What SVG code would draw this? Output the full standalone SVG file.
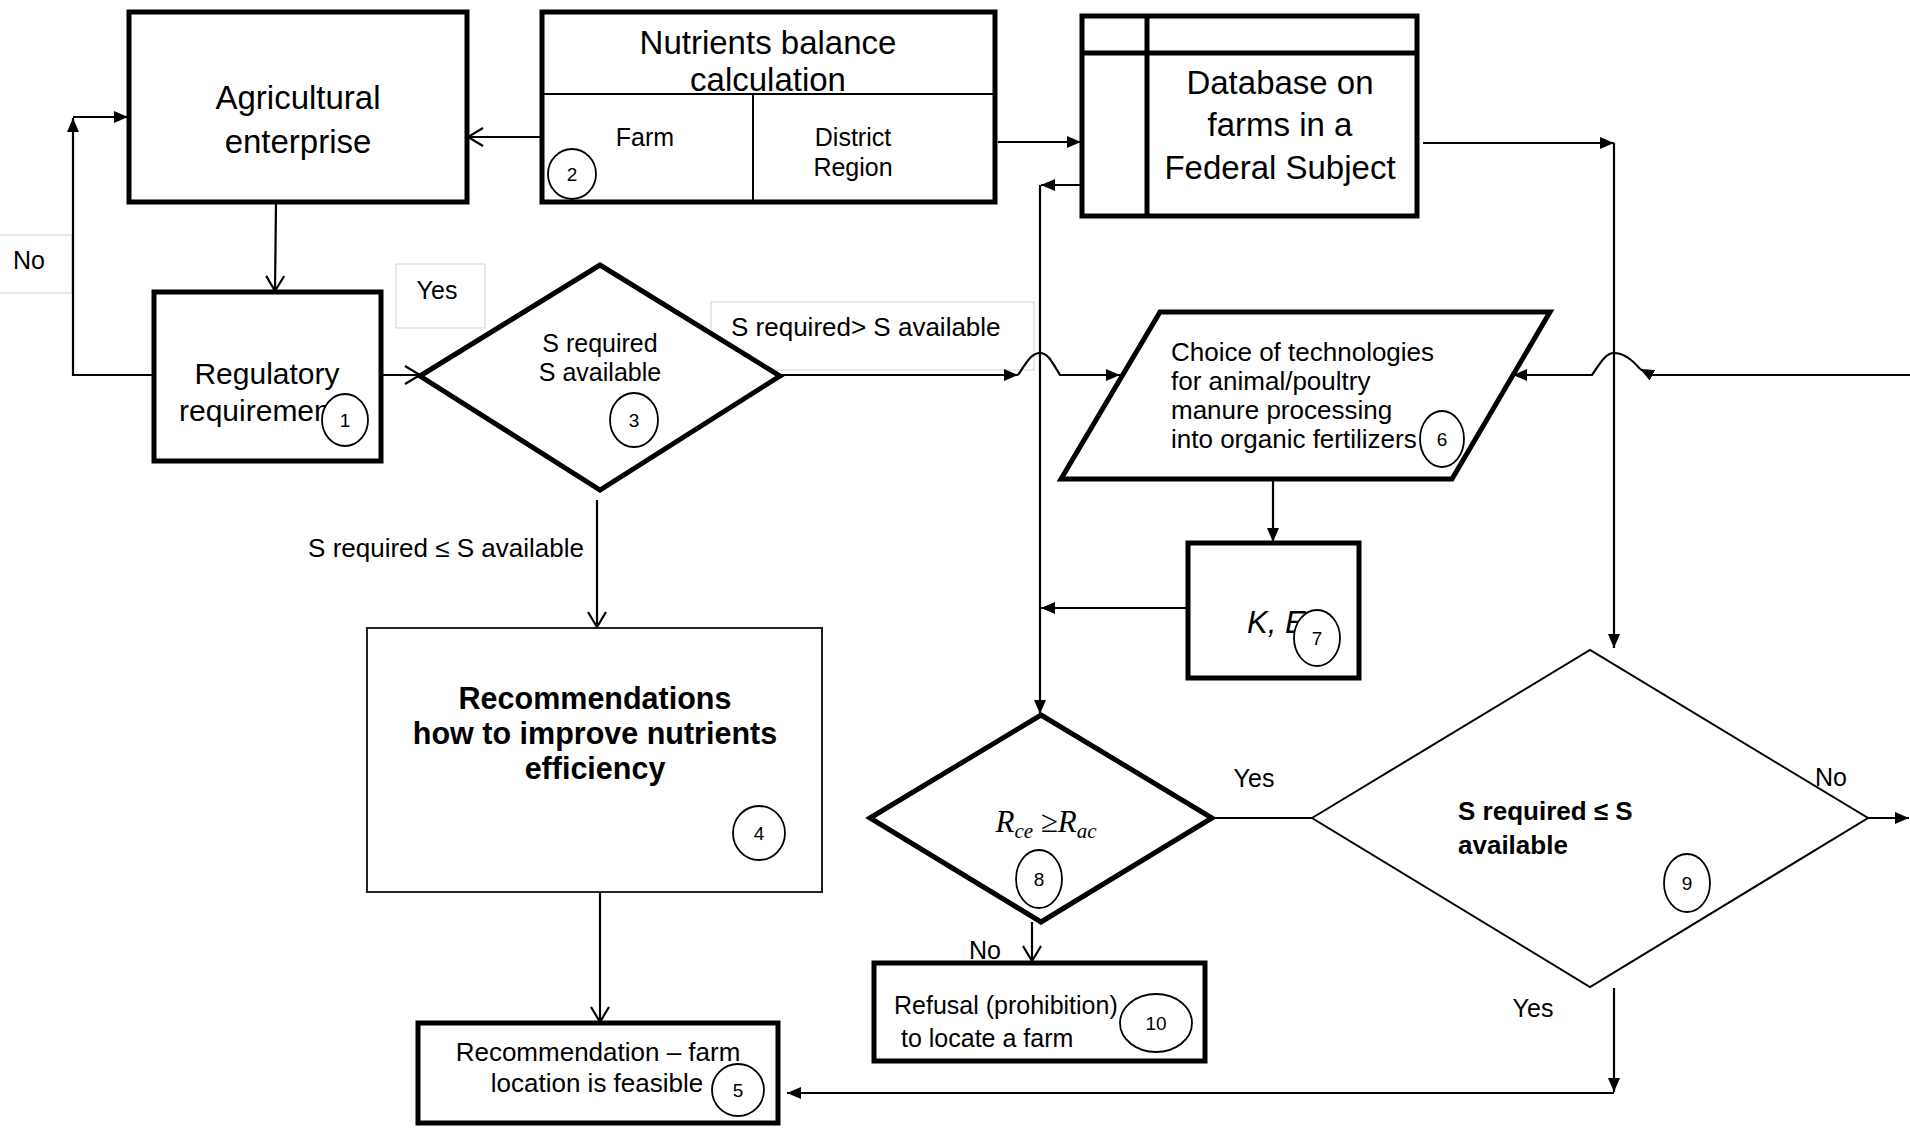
<svg xmlns="http://www.w3.org/2000/svg" width="1910" height="1128" viewBox="0 0 1910 1128">
<defs>
<style>
.t{font-family:"Liberation Sans",Arial,sans-serif;fill:#000}
.big{font-size:33px}
.mid{font-size:26px}
.sm{font-size:25px}
.num{font-family:"Liberation Sans",Arial,sans-serif;font-size:19px;fill:#000}
.thick{fill:#fff;stroke:#000;stroke-width:5}
.thin{fill:#fff;stroke:#000;stroke-width:2}
.div{stroke:#000;stroke-width:2;fill:none}
.lbl{fill:none;stroke:#d9d9d9;stroke-width:1.2}
.c{fill:#fff;stroke:#000;stroke-width:1.8}
.ln{fill:none;stroke:#000;stroke-width:2.2}
</style>
<marker id="fa" viewBox="0 0 14 12" refX="14" refY="6" markerWidth="14" markerHeight="12" orient="auto" markerUnits="userSpaceOnUse"><path d="M0,0 L14,6 L0,12 z" fill="#000"/></marker>
<marker id="oa" viewBox="0 0 18 20" refX="16" refY="10" markerWidth="18" markerHeight="20" orient="auto" markerUnits="userSpaceOnUse"><path d="M1,1 L16,10 L1,19" fill="none" stroke="#000" stroke-width="2.2"/></marker>
</defs>
<rect width="1910" height="1128" fill="#fff"/>

<g id="labels">
<rect class="lbl" x="-2" y="235" width="74" height="58"/>
<text class="t sm" x="29" y="269" text-anchor="middle">No</text>
<rect class="lbl" x="396" y="264" width="89" height="64"/>
<text class="t sm" x="437" y="299" text-anchor="middle">Yes</text>
<rect class="lbl" x="711" y="302" width="323" height="68"/>
<text class="t mid" x="731" y="336">S required&gt; S available</text>
<text class="t mid" x="446" y="557" text-anchor="middle">S required ≤ S available</text>
<text class="t sm" x="1254" y="787" text-anchor="middle">Yes</text>
<text class="t sm" x="985" y="959" text-anchor="middle">No</text>
<text class="t sm" x="1831" y="786" text-anchor="middle">No</text>
<text class="t sm" x="1533" y="1017" text-anchor="middle">Yes</text>
</g>

<g id="connectors">
<path class="ln" d="M542,137 L468,137" marker-end="url(#oa)"/>
<path class="ln" d="M276,202 L275,291" marker-end="url(#oa)"/>
<path class="ln" d="M381,375 L420,375" marker-end="url(#oa)"/>
<path class="ln" d="M154,375 L73,375 L73,118" marker-end="url(#fa)"/>
<path class="ln" d="M73,117 L128,117" marker-end="url(#fa)"/>
<path class="ln" d="M998,142 L1081,142" marker-end="url(#fa)"/>
<path class="ln" d="M1082,185 L1041,185" marker-end="url(#fa)"/>
<path class="ln" d="M1040,185 L1040,714" marker-end="url(#fa)"/>
<path class="ln" d="M1423,143 L1614,143" marker-end="url(#fa)"/>
<path class="ln" d="M1614,143 L1614,648" marker-end="url(#fa)"/>
<path class="ln" d="M780,375 L1018,375" marker-end="url(#fa)"/>
<path class="ln" d="M1018,375 C1028,360 1032,353 1040,353 C1048,353 1052,362 1060,375 L1120,375" marker-end="url(#fa)"/>
<path class="ln" d="M1910,375 L1652,375 L1640,369" marker-end="url(#fa)"/>
<path class="ln" d="M1640,369 C1630,357 1622,353 1614,353 C1605,353 1599,365 1592,375 L1513,375" marker-end="url(#fa)"/>
<path class="ln" d="M1273,479 L1273,542" marker-end="url(#fa)"/>
<path class="ln" d="M1188,608 L1041,608" marker-end="url(#fa)"/>
<path class="ln" d="M597,500 L597,627" marker-end="url(#oa)"/>
<path class="ln" d="M600,892 L600,1022" marker-end="url(#oa)"/>
<path class="ln" d="M1032,922 L1032,961" marker-end="url(#oa)"/>
<path class="ln" d="M1212,818 L1312,818"/>
<path class="ln" d="M1868,818 L1909,818" marker-end="url(#fa)"/>
<path class="ln" d="M1614,988 L1614,1092" marker-end="url(#fa)"/>
<path class="ln" d="M1614,1093 L787,1093" marker-end="url(#fa)"/>
</g>

<g id="agricultural-enterprise">
<rect class="thick" x="129" y="12" width="338" height="190"/>
<text class="t big" x="298" y="109" text-anchor="middle">Agricultural</text>
<text class="t big" x="298" y="153" text-anchor="middle">enterprise</text>
</g>

<g id="node1">
<rect class="thick" x="154" y="292" width="227" height="169"/>
<text class="t" font-size="30" x="267" y="384" text-anchor="middle">Regulatory</text>
<text class="t" font-size="30" x="179" y="421">requiremen</text>
<ellipse class="c" cx="345" cy="420" rx="23" ry="26"/>
<text class="num" x="345" y="427" text-anchor="middle">1</text>
</g>

<g id="node2">
<rect class="thick" x="542" y="12" width="453" height="190"/>
<path class="div" d="M542,94 L995,94 M753,94 L753,202"/>
<text class="t big" x="768" y="54" text-anchor="middle">Nutrients balance</text>
<text class="t big" x="768" y="91" text-anchor="middle">calculation</text>
<text class="t sm" x="645" y="146" text-anchor="middle">Farm</text>
<text class="t sm" x="853" y="146" text-anchor="middle">District</text>
<text class="t sm" x="853" y="176" text-anchor="middle">Region</text>
<ellipse class="c" cx="572" cy="174" rx="24" ry="25"/>
<text class="num" x="572" y="181" text-anchor="middle">2</text>
</g>

<g id="database">
<rect class="thick" x="1082" y="16" width="335" height="200"/>
<path d="M1082,53 L1417,53 M1147,16 L1147,216" stroke="#000" stroke-width="5" fill="none"/>
<text class="t big" x="1280" y="94" text-anchor="middle">Database on</text>
<text class="t big" x="1280" y="136" text-anchor="middle">farms in a</text>
<text class="t big" x="1280" y="179" text-anchor="middle">Federal Subject</text>
</g>

<g id="node3">
<polygon class="thick" points="420,376 600,265 780,376 600,490"/>
<text class="t sm" x="600" y="352" text-anchor="middle">S required</text>
<text class="t sm" x="600" y="381" text-anchor="middle">S available</text>
<ellipse class="c" cx="634" cy="420" rx="24" ry="27"/>
<text class="num" x="634" y="427" text-anchor="middle">3</text>
</g>

<g id="node4">
<rect x="367" y="628" width="455" height="264" fill="#fff" stroke="#222" stroke-width="2"/>
<text class="t" font-size="30.5" font-weight="bold" x="595" y="709" text-anchor="middle">Recommendations</text>
<text class="t" font-size="30.5" font-weight="bold" x="595" y="744" text-anchor="middle">how to improve nutrients</text>
<text class="t" font-size="30.5" font-weight="bold" x="595" y="779" text-anchor="middle">efficiency</text>
<ellipse class="c" cx="759" cy="833" rx="26" ry="27"/>
<text class="num" x="759" y="840" text-anchor="middle">4</text>
</g>

<g id="node5">
<rect class="thick" x="418" y="1023" width="360" height="100"/>
<text class="t mid" x="598" y="1061" text-anchor="middle">Recommendation – farm</text>
<text class="t mid" x="597" y="1092" text-anchor="middle">location is feasible</text>
<ellipse class="c" cx="738" cy="1090" rx="26" ry="26"/>
<text class="num" x="738" y="1097" text-anchor="middle">5</text>
</g>

<g id="node6">
<polygon class="thick" points="1160,312 1550,312 1452,479 1061,479"/>
<text class="t mid" x="1171" y="361">Choice of technologies</text>
<text class="t mid" x="1171" y="390">for animal/poultry</text>
<text class="t mid" x="1171" y="419">manure processing</text>
<text class="t mid" x="1171" y="448">into organic fertilizers</text>
<ellipse class="c" cx="1442" cy="439" rx="22" ry="28"/>
<text class="num" x="1442" y="446" text-anchor="middle">6</text>
</g>

<g id="node7">
<rect class="thick" x="1188" y="543" width="171" height="135"/>
<text class="t" font-size="31" font-style="italic" x="1247" y="633">K, E</text>
<ellipse class="c" cx="1317" cy="638" rx="23" ry="28"/>
<text class="num" x="1317" y="645" text-anchor="middle">7</text>
</g>

<g id="node8">
<polygon class="thick" points="870,818 1041,715 1212,818 1041,922"/>
<text font-family="Liberation Serif,Times New Roman,serif" font-style="italic" font-size="31" x="1046" y="832" text-anchor="middle" fill="#000">R<tspan font-size="21" dy="6">ce</tspan><tspan dy="-6"> ≥R</tspan><tspan font-size="21" dy="6">ac</tspan></text>
<ellipse class="c" cx="1039" cy="879" rx="23" ry="29"/>
<text class="num" x="1039" y="886" text-anchor="middle">8</text>
</g>

<g id="node9">
<polygon class="thin" points="1312,818 1590,650 1868,818 1590,987"/>
<text class="t mid" font-weight="bold" x="1458" y="820">S required ≤ S</text>
<text class="t mid" font-weight="bold" x="1458" y="854">available</text>
<ellipse class="c" cx="1687" cy="883" rx="23" ry="29"/>
<text class="num" x="1687" y="890" text-anchor="middle">9</text>
</g>

<g id="node10">
<rect class="thick" x="874" y="963" width="331" height="98"/>
<text class="t sm" x="894" y="1014">Refusal (prohibition)</text>
<text class="t sm" x="901" y="1047">to locate a farm</text>
<ellipse class="c" cx="1156" cy="1023" rx="36" ry="29"/>
<text class="num" x="1156" y="1030" text-anchor="middle">10</text>
</g>
</svg>
